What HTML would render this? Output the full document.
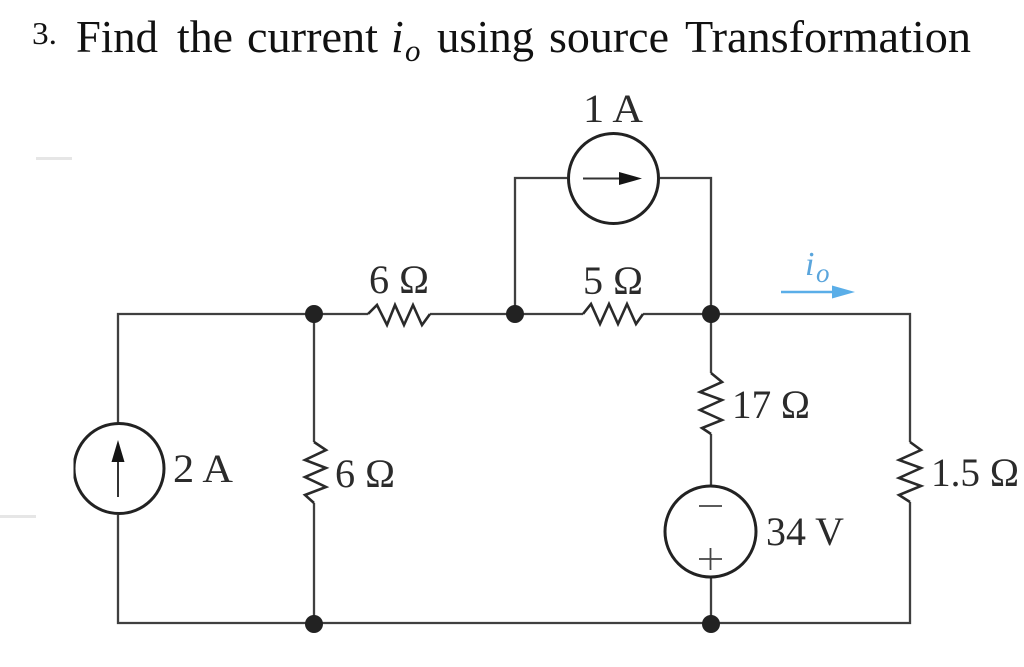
<!DOCTYPE html>
<html>
<head>
<meta charset="utf-8">
<style>
html,body{margin:0;padding:0;background:#fff;}
svg{display:block;}
text{font-family:"Liberation Serif",serif;fill:#2b2b2b;}
.t text{fill:#111;}
</style>
</head>
<body>
<svg width="1024" height="667" viewBox="0 0 1024 667" xmlns="http://www.w3.org/2000/svg">
<rect width="1024" height="667" fill="#fff"/>
<g class="t">
<text x="32" y="44" font-size="32" textLength="25" lengthAdjust="spacingAndGlyphs">3.</text>
<g font-size="46">
<text x="76" y="52" textLength="82" lengthAdjust="spacingAndGlyphs">Find</text>
<text x="177" y="52" textLength="56" lengthAdjust="spacingAndGlyphs">the</text>
<text x="247" y="52" textLength="131" lengthAdjust="spacingAndGlyphs">current</text>
<text x="391" y="52" font-style="italic">i</text>
<text x="437" y="52" textLength="97" lengthAdjust="spacingAndGlyphs">using</text>
<text x="549" y="52" textLength="120" lengthAdjust="spacingAndGlyphs">source</text>
<text x="685" y="52" textLength="286" lengthAdjust="spacingAndGlyphs">Transformation</text>
</g>
<text x="405" y="61" font-size="31" font-style="italic">o</text>
</g>

<rect x="36" y="157" width="36" height="3" fill="#e6e6e6"/>
<rect x="0" y="515" width="36" height="3" fill="#e6e6e6"/>

<g fill="none" stroke="#3f3f3f" stroke-width="2.3">
<path d="M118 423V314H368M430 314H583M643 314H910V442M910 502V623H118V515"/>
<path d="M314 314V442M314 503V623"/>
<path d="M515 314V178H567M660 178H711V314"/>
<path d="M711 314V373M711 434V486M711 578V623"/>
</g>
<g fill="none" stroke="#2a2a2a" stroke-width="2.6" stroke-linejoin="miter">
<path d="M368 314L377 305L387 325L395 305L404 325L413 305L422 325L430 314"/>
<path d="M583 314L591 304L600 324L609 304L618 324L627 304L636 324L643 314"/>
<path d="M314 442L326 450L305 460L326 468L305 477L326 487L305 495L314 503"/>
<path d="M711 373L722 382L700 392L722 400L700 410L722 420L702 428L711 434"/>
<path d="M910 442L921 450L899 460L921 468L899 478L921 486L899 495L910 502"/>
</g>
<g fill="#fff" stroke="#222" stroke-width="3">
<circle cx="119" cy="468.5" r="45"/>
<circle cx="613.5" cy="178.5" r="45"/>
<circle cx="710.5" cy="531.5" r="45.5"/>
</g>
<rect x="70" y="430" width="3.5" height="78" fill="#fff"/>
<g fill="#222">
<circle cx="314" cy="314" r="9"/>
<circle cx="515" cy="314" r="9"/>
<circle cx="711" cy="314" r="9"/>
<circle cx="314" cy="624" r="9"/>
<circle cx="711" cy="624" r="9"/>
</g>
<path d="M118 497V458" stroke="#333" stroke-width="2"/>
<path d="M118 440L111.500 462H124.500Z" fill="#151515"/>
<path d="M583 178.500H622" stroke="#333" stroke-width="2"/>
<path d="M642 178.500L619 172V185Z" fill="#151515"/>
<path d="M699 506H722M699 559H722M710.500 548V570" stroke="#444" stroke-width="1.800" fill="none"/>

<path d="M781 292H835" stroke="#5aaee8" stroke-width="2.500"/>
<path d="M855 292L832 285.500V298.500Z" fill="#5aaee8"/>
<text x="805" y="275" font-size="34" font-style="italic" style="fill:#5aa5dc">i</text>
<text x="816" y="282" font-size="27" font-style="italic" style="fill:#5aa5dc">o</text>

<g font-size="40">
<text x="583" y="122" textLength="60" lengthAdjust="spacingAndGlyphs">1 A</text>
<text x="369" y="293" textLength="60" lengthAdjust="spacingAndGlyphs">6 Ω</text>
<text x="583" y="294" textLength="60" lengthAdjust="spacingAndGlyphs">5 Ω</text>
<text x="732" y="418" textLength="78" lengthAdjust="spacingAndGlyphs">17 Ω</text>
<text x="173" y="482" textLength="60" lengthAdjust="spacingAndGlyphs">2 A</text>
<text x="335" y="487" textLength="60" lengthAdjust="spacingAndGlyphs">6 Ω</text>
<text x="931" y="486" textLength="88" lengthAdjust="spacingAndGlyphs">1.5 Ω</text>
<text x="766" y="545" textLength="78" lengthAdjust="spacingAndGlyphs">34 V</text>
</g>
</svg>
</body>
</html>
